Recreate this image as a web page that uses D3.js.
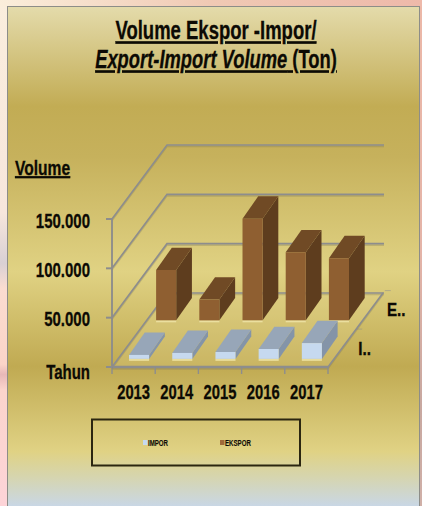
<!DOCTYPE html>
<html><head><meta charset="utf-8">
<style>html,body{margin:0;padding:0;background:#fbe9dc;overflow:hidden}svg{display:block}
text{font-family:"Liberation Sans",Arial,sans-serif;font-weight:bold;fill:#0c0a04;stroke:#0c0a04;stroke-width:.3px}</style>
<script src="https://cdn.jsdelivr.net/npm/d3@7"></script></head><body>
<script>
const years = ["2013","2014","2015","2016","2017"];
const seriesNames = ["IMPOR","EKSPOR"];
const impor = [4000,6000,7000,10000,16000];
const ekspor = [51000,21000,103000,69000,63000];
const yTicks = [0,50000,100000,150000];
const yLabels = ["Tahun","50.000","100.000","150.000"];
const seriesShort = ["I..","E.."];

const W=422,H=506;
const svg=d3.select("body").append("svg").attr("width",W).attr("height",H);
const defs=svg.append("defs");
function grad(id,stops,x2,y2){const g=defs.append("linearGradient").attr("id",id).attr("x1",0).attr("y1",0).attr("x2",x2).attr("y2",y2);
 stops.forEach(s=>g.append("stop").attr("offset",s[0]).attr("stop-color",s[1]));}
grad("pane",[[0,"#e4dbab"],[.2,"#c2ac54"],[.3,"#c6b15c"],[.53,"#e0d283"],[.72,"#c0aa52"],[.89,"#e0d284"],[.94,"#d6d5ae"],[1,"#c9d7e6"]],0,1);
grad("left",[[0,"#fbeedd"],[.42,"#f7e6dc"],[.52,"#d9d0d4"],[.57,"#fbdcd0"],[.72,"#fbd4c8"],[.74,"#e8b8b8"],[.77,"#fbd4cc"],[1,"#fdd4d8"]],0,1);
grad("right",[[0,"#ecb8a8"],[.5,"#e4b4a8"],[.8,"#c8a8a0"],[1,"#d0b0a8"]],0,1);
grad("topband",[[0,"#fbeedb"],[.5,"#f0c9b4"],[1,"#eeb9aa"]],1,0);
svg.append("rect").attr("width",W).attr("height",H).attr("fill","url(#left)");
svg.append("rect").attr("x",418).attr("width",4).attr("height",H).attr("fill","url(#right)");
svg.append("rect").attr("width",W).attr("height",7).attr("fill","url(#topband)");
svg.append("rect").attr("x",7.5).attr("y",6.5).attr("width",412).attr("height",500).attr("fill","url(#pane)").attr("stroke","#8d8d88").attr("stroke-width",1);

const x=d3.scaleBand().domain(years).range([112,328]);
const barPad=.262;
const y=d3.scaleLinear().domain([0,150000]).range([367,219]);
const z=d3.scaleBand().domain(seriesNames).range([0,1]).paddingInner(.42).paddingOuter(.17).align(.62);
const DX=55,DY=-74,DXB=52;
const P=(px,py,zz)=>[px+DX*zz,py+DY*zz];
const PB=(px,py,zz)=>[px+DXB*zz,py+DY*zz];
const line=d3.line();
const g=svg.append("g");
const gray="#8d8d8d",shade="rgba(120,115,90,.3)";

g.append("path").attr("d",line([P(112,367,0),P(328,367,0),P(328,367,1),P(112,367,1)])+"Z").attr("fill","rgba(235,225,160,.22)");
function stroke(pts,w){
 g.append("path").attr("d",line(pts.map(p=>[p[0],p[1]+1.5]))).attr("fill","none").attr("stroke",shade).attr("stroke-width",w);
 g.append("path").attr("d",line(pts)).attr("fill","none").attr("stroke",gray).attr("stroke-width",w);
}
yTicks.forEach(v=>stroke([P(112,y(v),0),P(112,y(v),1),P(x.range()[1]+1,y(v),1)],1.6));
stroke([P(328,367,0),P(328,367,1)],1.6);

function bar(px,val,s,c){
 const w=x.bandwidth()*.465;
 const x0=px+x.bandwidth()*barPad, z0=z(s), z1=z0+z.bandwidth();
 const yb=y(0),yt=y(val);
 g.append("path").attr("d",line([PB(x0,yb,z0),PB(x0+w,yb,z0)])).attr("stroke","rgba(240,230,170,.8)").attr("stroke-width",2).attr("transform","translate(0,1)");
 g.append("path").attr("d",line([PB(x0+w,yb,z0),PB(x0+w,yb,z1),PB(x0+w,yt,z1),PB(x0+w,yt,z0)])+"Z").attr("fill",c[2]);
 g.append("path").attr("d",line([PB(x0,yt,z0),PB(x0+w,yt,z0),PB(x0+w,yt,z1),PB(x0,yt,z1)])+"Z").attr("fill",c[1]);
 g.append("path").attr("d",line([PB(x0,yb,z0),PB(x0+w,yb,z0),PB(x0+w,yt,z0),PB(x0,yt,z0)])+"Z").attr("fill",c[0]);
}
const ekC=["#8f5f31","#704a25","#5e3d1e"], imC=["#c6d9ef","#97a6b8","#8494a8"];
years.forEach((yr,i)=>bar(x(yr),ekspor[i],"EKSPOR",ekC));
years.forEach((yr,i)=>bar(x(yr),impor[i],"IMPOR",imC));

stroke([P(112,367,0),P(328,367,0)],2.4);
stroke([[112,219],[112,367]],1.8);
yTicks.forEach(v=>g.append("line").attr("x1",106).attr("x2",112).attr("y1",y(v)).attr("y2",y(v)).attr("stroke",gray).attr("stroke-width",2));
x.domain().concat("end").forEach(d=>{const px=d==="end"?328:x(d);
 g.append("line").attr("x1",px).attr("x2",px).attr("y1",367).attr("y2",374).attr("stroke",gray).attr("stroke-width",1.4);});
seriesNames.forEach(s=>{const p=P(328,367,z(s)+z.bandwidth()+.1);
 g.append("line").attr("x1",p[0]).attr("x2",p[0]+6).attr("y1",p[1]).attr("y2",p[1]).attr("stroke",gray).attr("stroke-opacity",.5);});

const T=(s,px,py,sz,anchor,sx)=>svg.append("text").attr("transform",`translate(${px},${py}) scale(${sx||.75},1)`).attr("font-size",sz).attr("text-anchor",anchor||"start").text(s);
yTicks.forEach((v,i)=>T(yLabels[i],90,y(v)+(i?8.5:11.5),20,"end",.75));
years.forEach(yr=>T(yr,x(yr)+x.bandwidth()/2,399,20,"middle",.74));
seriesNames.forEach((s,i)=>{const p=P(328,367,z(s)+z.bandwidth()/2);T(seriesShort[i],p[0]+16,p[1]+7,19,"start",.8);});
T("Volume",15,175,20,"start",.78).attr("text-decoration","underline");
T("Volume Ekspor -Impor/",216,39,25,"middle",.74).attr("text-decoration","underline");
const t2=T("",216,68,25,"middle",.735).attr("text-decoration","underline");
t2.append("tspan").attr("font-style","italic").text("Export-Import Volume");
t2.append("tspan").text(" (Ton)");

svg.append("rect").attr("x",92).attr("y",419.5).attr("width",208).attr("height",46).attr("fill","none").attr("stroke","#2b2610").attr("stroke-width",2);
const lx=[143,220], lc=[imC[0],"#a06a3a"];
seriesNames.forEach((s,i)=>{
 svg.append("rect").attr("x",lx[i]).attr("y",440).attr("width",4.5).attr("height",5).attr("fill",lc[i]);
 T(s,lx[i]+5,446,8.5,"start",.72).style("stroke-width",".1px");
});
</script></body></html>
